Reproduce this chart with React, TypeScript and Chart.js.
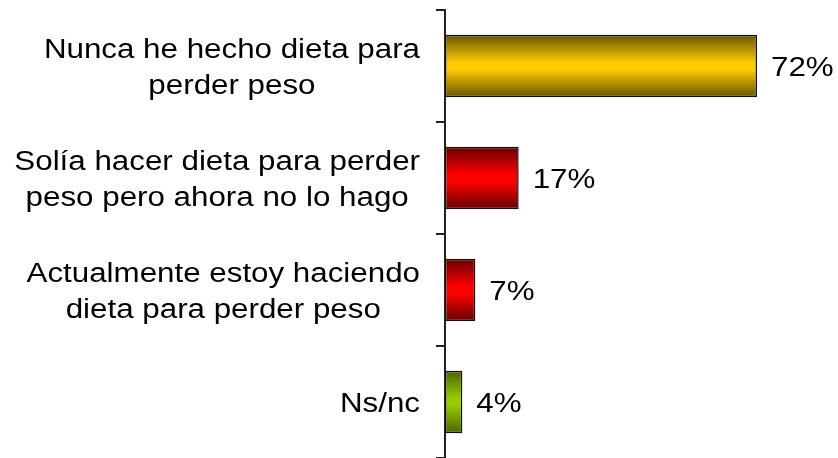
import React, { useEffect, useRef } from "react";
import { Chart, registerables } from "chart.js";

Chart.register(...registerables);

const categories: string[][] = [
  ["Nunca he hecho dieta para", "perder peso"],
  ["Solía hacer dieta para perder", "peso pero ahora no lo hago"],
  ["Actualmente estoy haciendo", "dieta para perder peso"],
  ["Ns/nc"],
];
const values: number[] = [72, 17, 7, 4];
const valueLabels: string[] = ["72%", "17%", "7%", "4%"];
const brightColors: string[] = ["#ffcc00", "#ff0000", "#ff0000", "#99cc00"];
const darkColors: string[] = ["#665400", "#660000", "#660000", "#4a6300"];

const FONT = "27px 'Liberation Sans', Arial, sans-serif";
const SCALE_X = 1.16;
const LINE_H = 36;
const CAP_H = 19.3;
const BAR_PCT = 0.56;

export default function App() {
  const ref = useRef<HTMLCanvasElement | null>(null);

  useEffect(() => {
    const canvas = ref.current;
    if (!canvas) return;

    const gradientFor = (ctx: any) => {
      const i = ctx.dataIndex;
      const chart = ctx.chart;
      if (i === undefined || !chart.chartArea || !chart.scales.y) {
        return brightColors[i ?? 0] || "#ffcc00";
      }
      const y = chart.scales.y;
      const center = y.getPixelForValue(i);
      const half = (chart.chartArea.height / categories.length) * BAR_PCT / 2;
      const g = chart.ctx.createLinearGradient(0, center - half, 0, center + half);
      g.addColorStop(0, darkColors[i]);
      g.addColorStop(0.45, brightColors[i]);
      g.addColorStop(0.55, brightColors[i]);
      g.addColorStop(1, darkColors[i]);
      return g;
    };

    const labelPlugin = {
      id: "customLabels",
      afterDraw(chart: any) {
        const c = chart.ctx;
        const y = chart.scales.y;
        c.save();
        c.font = FONT;
        c.fillStyle = "#000";
        c.textBaseline = "alphabetic";
        // category labels
        categories.forEach((lines, i) => {
          const center = y.getPixelForValue(i);
          const maxW = Math.max(...lines.map((l) => c.measureText(l).width)) * SCALE_X;
          const cx = 420 - maxW / 2;
          lines.forEach((line, j) => {
            const base = center + (j - (lines.length - 1) / 2) * LINE_H + CAP_H / 2;
            c.save();
            c.translate(cx, base);
            c.scale(SCALE_X, 1);
            c.textAlign = "center";
            c.fillText(line, 0, 0);
            c.restore();
          });
        });
        // value labels
        const meta = chart.getDatasetMeta(0);
        meta.data.forEach((bar: any, i: number) => {
          c.save();
          c.translate(bar.x + 14, bar.y + CAP_H / 2);
          c.scale(SCALE_X, 1);
          c.textAlign = "left";
          c.fillText(valueLabels[i], 0, 0);
          c.restore();
        });
        c.restore();
      },
    };

    const chart = new Chart(canvas, {
      type: "bar",
      data: {
        labels: categories.map((l) => l.join(" ")),
        datasets: [
          {
            data: values,
            backgroundColor: gradientFor,
            borderColor: "#111",
            borderWidth: 1.5,
            borderSkipped: false,
            categoryPercentage: 1,
            barPercentage: BAR_PCT,
          },
        ],
      },
      options: {
        indexAxis: "y",
        responsive: false,
        animation: false,
        layout: { padding: { top: 10, bottom: 0, left: 0, right: 3 } },
        plugins: {
          legend: { display: false },
          tooltip: { enabled: false },
        },
        scales: {
          x: { display: false, min: 0, max: 90 },
          y: {
            type: "category",
            offset: true,
            afterFit(scale: any) {
              scale.width = 445;
            },
            ticks: { display: false },
            grid: {
              offset: true,
              drawOnChartArea: false,
              drawTicks: true,
              tickLength: 9,
              color: "#222",
              lineWidth: 2,
            },
            border: { display: true, color: "#222", width: 2 },
          },
        },
      },
      plugins: [labelPlugin],
    } as any);

    return () => chart.destroy();
  }, []);

  return (
    <div style={{ position: "fixed", left: 0, top: 0, width: 838, height: 458, background: "#fff" }}>
      <canvas ref={ref} width={838} height={458} style={{ display: "block" }} />
    </div>
  );
}
